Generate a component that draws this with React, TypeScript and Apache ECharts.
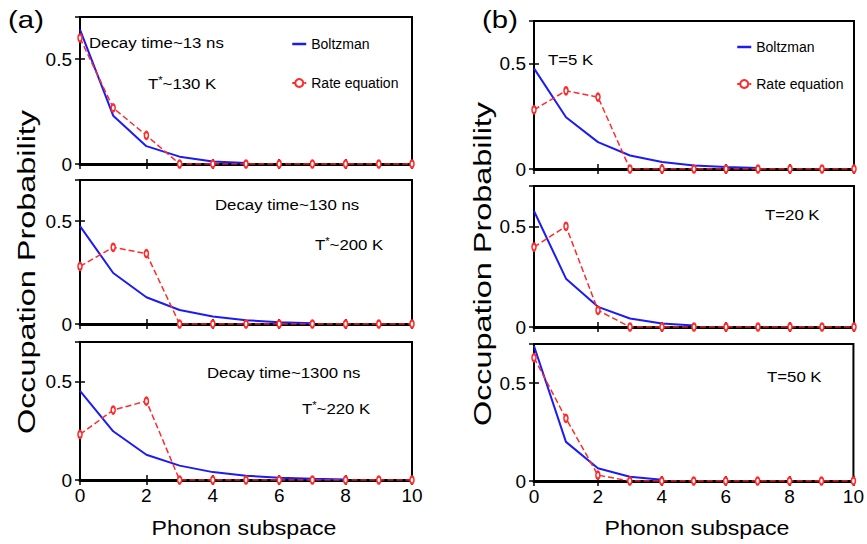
import React, { useEffect, useRef } from "react";
import * as echarts from "echarts";

// ---------- data ----------
const phononStates = [0, 1, 2, 3, 4, 5, 6, 7, 8, 9, 10];

// (a) panels: different decay times
const boltzmanA1 = [0.64, 0.23, 0.085, 0.035, 0.012, 0.005];
const rateA1 = [0.6, 0.267, 0.136, 0, 0, 0, 0, 0, 0, 0, 0];
const boltzmanA2 = [0.476, 0.248, 0.13, 0.068, 0.036, 0.018, 0.009, 0.004];
const rateA2 = [0.28, 0.373, 0.342, 0, 0, 0, 0, 0, 0, 0, 0];
const boltzmanA3 = [0.452, 0.247, 0.128, 0.073, 0.04, 0.022, 0.012, 0.006, 0.003];
const rateA3 = [0.231, 0.355, 0.4, 0, 0, 0, 0, 0, 0, 0, 0];

// (b) panels: different bath temperatures
const boltzmanB1 = [0.476, 0.245, 0.127, 0.064, 0.033, 0.017, 0.009, 0.005];
const rateB1 = [0.28, 0.37, 0.34, 0, 0, 0, 0, 0, 0, 0, 0];
const boltzmanB2 = [0.576, 0.24, 0.1, 0.042, 0.017, 0.007];
const rateB2 = [0.397, 0.5, 0.083, 0, 0, 0, 0, 0, 0, 0, 0];
const boltzmanB3 = [0.69, 0.2, 0.065, 0.022, 0.007];
const rateB3 = [0.63, 0.32, 0.03, 0, 0, 0, 0, 0, 0, 0, 0];

const decayTimes = ["Decay time~13 ns", "Decay time~130 ns", "Decay time~1300 ns"];
const effectiveTemps = ["~130 K", "~200 K", "~220 K"];
const bathTemps = ["T=5 K", "T=20 K", "T=50 K"];
const seriesNames = ["Boltzman", "Rate equation"];
const yTickLabels = ["0", "0.5"];

// ---------- styling / layout ----------
const FONT = "Liberation Sans, Arial, Helvetica, sans-serif";
const BLUE = "#1c1cf2";
const RED = "#ff2a2a";

const grids = [
  { left: 80, top: 17, width: 332, height: 147 },
  { left: 80, top: 180, width: 332, height: 144 },
  { left: 80, top: 342, width: 332, height: 138 },
  { left: 534, top: 21, width: 320, height: 148 },
  { left: 534, top: 186, width: 320, height: 141 },
  { left: 534, top: 344, width: 320, height: 137 },
];

const panelData = [
  [boltzmanA1, rateA1],
  [boltzmanA2, rateA2],
  [boltzmanA3, rateA3],
  [boltzmanB1, rateB1],
  [boltzmanB2, rateB2],
  [boltzmanB3, rateB3],
];

function buildOption() {
  const xAxis: any[] = [];
  const yAxis: any[] = [];
  const series: any[] = [];
  const tickStyle = { color: "#000", width: 1.5 };

  grids.forEach((_, i) => {
    const isBottom = i === 2 || i === 5;
    xAxis.push({
      type: "value",
      gridIndex: i,
      min: 0,
      max: 10,
      interval: 2,
      axisLine: { show: true, onZero: false, lineStyle: { color: "#000", width: 3 } },
      axisTick: { show: true, inside: true, length: 5, lineStyle: tickStyle },
      axisLabel: {
        show: isBottom,
        margin: 6,
        fontSize: 19,
        color: "#000",
        fontFamily: FONT,
      },
      splitLine: { show: false },
    });
    xAxis.push({
      type: "value",
      gridIndex: i,
      position: "top",
      min: 0,
      max: 10,
      interval: 2,
      axisLine: { show: false },
      axisTick: { show: true, inside: true, length: 5, lineStyle: tickStyle },
      axisLabel: { show: false },
      splitLine: { show: false },
    });
    yAxis.push({
      type: "value",
      gridIndex: i,
      min: 0,
      max: 0.7,
      interval: 0.5,
      axisLine: { show: false },
      axisTick: { show: true, inside: true, length: 5, lineStyle: tickStyle },
      axisLabel: {
        margin: 8,
        fontSize: 19,
        color: "#000",
        fontFamily: FONT,
        formatter: (v: number) =>
          Math.abs(v) < 1e-9 ? yTickLabels[0] : Math.abs(v - 0.5) < 1e-9 ? yTickLabels[1] : "",
      },
      splitLine: { show: false },
    });
    yAxis.push({
      type: "value",
      gridIndex: i,
      position: "right",
      min: 0,
      max: 0.7,
      interval: 0.5,
      axisLine: { show: false },
      axisTick: { show: true, inside: true, length: 5, lineStyle: tickStyle },
      axisLabel: { show: false },
      splitLine: { show: false },
    });

    const [boltz, rate] = panelData[i];
    series.push({
      type: "line",
      name: seriesNames[0],
      xAxisIndex: 2 * i,
      yAxisIndex: 2 * i,
      data: boltz.map((v, k) => [phononStates[k], v]),
      symbol: "none",
      lineStyle: { color: BLUE, width: 2 },
      itemStyle: { color: BLUE, borderColor: BLUE },
      z: 3,
    });
    series.push({
      type: "line",
      name: seriesNames[1],
      xAxisIndex: 2 * i,
      yAxisIndex: 2 * i,
      data: rate.map((v, k) => [phononStates[k], v]),
      symbol: "emptyCircle",
      symbolSize: [4, 7],
      showAllSymbol: true,
      lineStyle: { color: RED, width: 1.5, type: "dashed" },
      itemStyle: { color: RED, borderColor: RED, borderWidth: 1.5 },
      z: 4,
    });
  });

  const annFont = { fontSize: 15, fill: "#000", fontFamily: FONT };
  const annScale = 1.12;
  const textEl = (text: string, x: number, y: number) => ({
    type: "text",
    x,
    y,
    scaleX: annScale,
    style: { text, ...annFont, align: "left", verticalAlign: "middle" },
  });
  const tStarEl = (temp: string, x: number, y: number) => ({
    type: "text",
    x,
    y,
    scaleX: annScale,
    style: {
      text: "T{s|*}" + temp,
      ...annFont,
      align: "left",
      verticalAlign: "middle",
      rich: {
        s: { fontSize: 10, verticalAlign: "top", fontFamily: FONT, fill: "#000", lineHeight: 18 },
      },
      lineHeight: 18,
    },
  });

  const graphic: any[] = [
    {
      type: "text",
      x: 26,
      y: 20,
      scaleX: 1.22,
      style: { text: "(a)", fontSize: 24, fill: "#000", fontFamily: FONT, align: "center", verticalAlign: "middle" },
    },
    {
      type: "text",
      x: 500,
      y: 20,
      scaleX: 1.22,
      style: { text: "(b)", fontSize: 24, fill: "#000", fontFamily: FONT, align: "center", verticalAlign: "middle" },
    },
    {
      type: "text",
      x: 27,
      y: 272,
      rotation: Math.PI / 2,
      scaleX: 1.35,
      style: { text: "Occupation Probability", fontSize: 24, fill: "#000", fontFamily: FONT, align: "center", verticalAlign: "middle" },
    },
    {
      type: "text",
      x: 483,
      y: 264,
      rotation: Math.PI / 2,
      scaleX: 1.35,
      style: { text: "Occupation Probability", fontSize: 24, fill: "#000", fontFamily: FONT, align: "center", verticalAlign: "middle" },
    },
    {
      type: "text",
      x: 244,
      y: 528,
      scaleX: 1.1,
      style: { text: "Phonon subspace", fontSize: 21, fill: "#000", fontFamily: FONT, align: "center", verticalAlign: "middle" },
    },
    {
      type: "text",
      x: 697,
      y: 528,
      scaleX: 1.1,
      style: { text: "Phonon subspace", fontSize: 21, fill: "#000", fontFamily: FONT, align: "center", verticalAlign: "middle" },
    },
    textEl(decayTimes[0], 89, 43),
    tStarEl(effectiveTemps[0], 148, 84),
    textEl(decayTimes[1], 215, 205),
    tStarEl(effectiveTemps[1], 315, 245),
    textEl(decayTimes[2], 207, 373),
    tStarEl(effectiveTemps[2], 302, 409),
    textEl(bathTemps[0], 548, 60),
    textEl(bathTemps[1], 765, 215),
    textEl(bathTemps[2], 767, 377),
  ];

  const legendBase = {
    orient: "vertical",
    itemWidth: 14,
    itemHeight: 10,
    selectedMode: false,
    data: [{ name: seriesNames[0], icon: "line" }, seriesNames[1]],
    itemStyle: { borderWidth: 2.5 },
    textStyle: { fontSize: 14, color: "#000", fontFamily: FONT },
  };

  return {
    animation: false,
    backgroundColor: "#fff",
    grid: grids.map((g) => ({
      ...g,
      show: true,
      borderColor: "#000",
      borderWidth: 2,
      backgroundColor: "transparent",
      containLabel: false,
    })),
    xAxis,
    yAxis,
    series,
    legend: [
      { ...legendBase, left: 286, top: 32, itemGap: 25 },
      { ...legendBase, left: 731, top: 35, itemGap: 23 },
    ],
    graphic,
  };
}

export default function App() {
  const ref = useRef<HTMLDivElement>(null);
  useEffect(() => {
    if (!ref.current) return;
    const chart = echarts.init(ref.current, null, { renderer: "svg" });
    chart.setOption(buildOption() as any);
    return () => chart.dispose();
  }, []);
  return (
    <div
      ref={ref}
      style={{ position: "fixed", left: 0, top: 0, width: 867, height: 544, background: "#fff" }}
    />
  );
}
